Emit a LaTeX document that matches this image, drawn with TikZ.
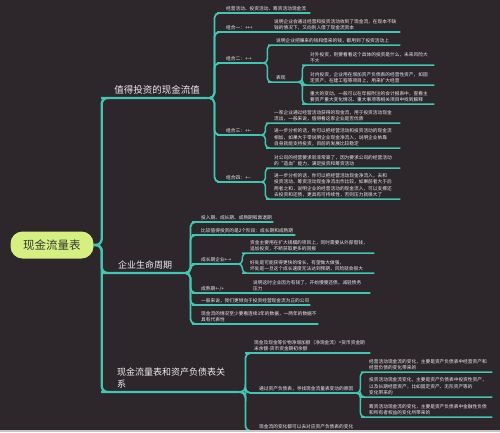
\documentclass[tikz,border=0pt]{standalone}
\usepackage{fontspec}
\newfontfamily\cjk{Noto Sans CJK SC}
\definecolor{bgdark}{RGB}{45,39,44}
\definecolor{linkc}{RGB}{64,198,178}
\definecolor{rootc}{RGB}{213,240,128}
\definecolor{roott}{RGB}{55,55,55}
\definecolor{txt}{RGB}{236,236,236}
\definecolor{stripc}{RGB}{196,196,196}

\begin{document}
\begin{tikzpicture}[x=1pt,y=-1pt,
    trunk/.style={draw=linkc,line width=2.3pt,rounded corners=6pt},
    link/.style={draw=linkc,line width=1.8pt,rounded corners=5pt},
    twig/.style={draw=linkc,line width=1.5pt,rounded corners=4pt},
    root/.style={fill=rootc,rounded corners=12pt,minimum width=83pt,minimum height=27pt,
        text=roott,font=\cjk\fontsize{11.5}{13}\selectfont},
    main/.style={anchor=south west,text=txt,inner xsep=0pt,inner ysep=3.5pt,
        font=\cjk\fontsize{9.5}{12.5}\selectfont},
    leaf/.style={anchor=south west,text=txt,text width=#1,align=left,inner xsep=4pt,
        inner ysep=1.9pt,font=\cjk\fontsize{4.7}{6.4}\selectfont},
]
\path[use as bounding box,fill=bgdark] (0,0) rectangle (500,432);

\node[root] (root) at (52,245) {现金流量表};
\node[main,minimum width=100pt,align=center] (inv) at (107,98) {值得投资的现金流值};
\node[main,minimum width=76pt,font=\cjk\fontsize{9}{12}\selectfont] (life) at (107,273) {企业生命周期};
\node[main,text width=112pt,align=left,inner xsep=10pt,font=\cjk\fontsize{9}{12.5}\selectfont] (rel) at (107,392) {现金流量表和资产负债表关\\系};

\node[leaf=80pt] (b1a) at (222,13) {经营活动、投资活动、筹资活动现金流};
\node[leaf=32pt] (c1) at (222,32) {组合一：+++};
\node[leaf=122pt] (c1a) at (270,32) {说明企业会通过经营和投资活动收到了现金流，在现本不缺\\钱的情况下，又向别人借了现金流资本};
\node[leaf=32pt] (c2) at (222,63) {组合二：+-+};
\node[leaf=120pt] (c2a) at (272,45) {说明企业把赚来的钱和借来的钱，都用到了投资活动上};
\node[leaf=18pt] (c2b) at (272,82) {表现};
\node[leaf=120pt] (c2b1) at (306,65) {对外投资，则要看看这个具体的投资是什么，未来风险大\\不大};
\node[leaf=120pt] (c2b2) at (306,85) {对内投资，企业用在增加资产负债表的经营性资产，如固\\定资产、在建工程等项目上，用来扩大经营};
\node[leaf=120pt] (c2b3) at (306,104) {重大的变动，一般可以在年报附注的会计报表中，查看主\\要资产重大变化情况、重大事项等相关项目中找到解释};
\node[leaf=30pt] (c3) at (222,135) {组合三：++-};
\node[leaf=122pt] (c3a) at (270,123) {一家企业通过经营活动获得的现金流，用于投资活动现金\\流出，一般来说，值得看这家企业是否优质};
\node[leaf=122pt] (c3b) at (270,148) {进一步分析的话，你可以把经营活动和投资活动的现金流\\相加，如果大于零说明企业现金净流入，说明企业依靠\\自身就能支持投资，目前的发展比较稳定};
\node[leaf=30pt] (c4) at (222,182) {组合四：+--};
\node[leaf=122pt] (c4a) at (270,168) {对公司的经营要求就非常高了，因为要求公司的经营活动\\的“造血”能力，满足投资和筹资活动};
\node[leaf=122pt] (c4b) at (270,199) {进一步分析的话，你可以把经营活动现金净流入，去和\\投资活动、筹资活动现金净流出作比较，如果前者大于后\\两者之和，说明企业的经营活动的现金流入，可以支撑还\\去投资和还债，更具有可持续性，否则压力就很大了};

\node[leaf=68pt] (d1) at (197,222) {投入期、成长期、成熟期和衰退期};
\node[leaf=90pt] (d2) at (197,235) {比较值得投资的是2个阶段：成长期和成熟期};
\node[leaf=33pt] (d3) at (197,264) {成长期企业+-+};
\node[leaf=120pt] (d3a) at (246,253) {资金主要用在扩大规模的项目上，同时需要从外部借钱，\\追加投资，不断获取更多的回报};
\node[leaf=120pt] (d3b) at (246,273) {好处是可能获得更快的增长，有望做大做强，\\坏处是一旦这个成长速度无法达到预期，风险就会很大};
\node[leaf=36pt] (d4) at (197,293) {成熟期+-/+};
\node[leaf=113pt] (d4a) at (249,293) {说明这时企业因为有钱了，开始慢慢还债，减轻债务\\压力};
\node[leaf=105pt] (d5) at (197,305) {一般来说，我们更倾向于投资经营现金流为正的公司};
\node[leaf=113pt] (d6) at (197,324) {现金流的情况至少要看连续3年的数据，一两年的数据不\\具有代表性};

\node[leaf=112pt] (e1) at (250,353) {现金及现金等价物净增加额（净现金流）=货币资金期\\末余额-货币资金期初余额};
\node[leaf=92pt] (e2) at (255,393) {通过资产负债表，寻找现金流量表变动的原因};
\node[leaf=119pt] (e2a) at (365,372) {经营活动现金流的变化，主要是资产负债表中经营资产和\\经营负债的变化带来的};
\node[leaf=119pt] (e2b) at (365,397) {投资活动现金流变化，主要是资产负债表中投资性资产，\\以及长期经营资产，比如固定资产、无形资产等的\\变化带来的};
\node[leaf=119pt] (e2c) at (365,417) {筹资活动现金流的变化，主要是资产负债表中金融性负债\\和所有者权益的变化所带来的};
\node[leaf=92pt] (e3) at (255,431) {现金流的变化都可以去对应资产负债表的变化};

\draw[trunk] (root.east) -- ++(8,0) |- (inv.south west) -- (inv.south east);
\draw[trunk] (root.east) -- ++(8,0) |- (life.south west) -- (life.south east);
\draw[trunk] (root.east) -- ++(8,0) |- (rel.south west) -- (rel.south east);

\draw[link] (inv.south east) -- ++(7,0) |- (b1a.south west) -- (b1a.south east);
\draw[link] (inv.south east) -- ++(7,0) |- (c1.south west) -- (c1.south east) -- (c1a.south west) -- (c1a.south east);
\draw[link] (inv.south east) -- ++(7,0) |- (c2.south west) -- (c2.south east);
\draw[link] (inv.south east) -- ++(7,0) |- (c3.south west) -- (c3.south east);
\draw[link] (inv.south east) -- ++(7,0) |- (c4.south west) -- (c4.south east);
\draw[twig] (c2.south east) -- ++(5,0) |- (c2a.south west) -- (c2a.south east);
\draw[twig] (c2.south east) -- ++(5,0) |- (c2b.south west) -- (c2b.south east);
\draw[twig] (c2b.south east) -- ++(4,0) |- (c2b1.south west) -- (c2b1.south east);
\draw[twig] (c2b.south east) -- ++(4,0) |- (c2b2.south west) -- (c2b2.south east);
\draw[twig] (c2b.south east) -- ++(4,0) |- (c2b3.south west) -- (c2b3.south east);
\draw[twig] (c3.south east) -- ++(5,0) |- (c3a.south west) -- (c3a.south east);
\draw[twig] (c3.south east) -- ++(5,0) |- (c3b.south west) -- (c3b.south east);
\draw[twig] (c4.south east) -- ++(5,0) |- (c4a.south west) -- (c4a.south east);
\draw[twig] (c4.south east) -- ++(5,0) |- (c4b.south west) -- (c4b.south east);

\draw[link] (life.south east) -- ++(7,0) |- (d1.south west) -- (d1.south east);
\draw[link] (life.south east) -- ++(7,0) |- (d2.south west) -- (d2.south east);
\draw[link] (life.south east) -- ++(7,0) |- (d3.south west) -- (d3.south east);
\draw[link] (life.south east) -- ++(7,0) |- (d4.south west) -- (d4.south east) -- (d4a.south west) -- (d4a.south east);
\draw[link] (life.south east) -- ++(7,0) |- (d5.south west) -- (d5.south east);
\draw[link] (life.south east) -- ++(7,0) |- (d6.south west) -- (d6.south east);
\draw[twig] (d3.south east) -- ++(4,0) |- (d3a.south west) -- (d3a.south east);
\draw[twig] (d3.south east) -- ++(4,0) |- (d3b.south west) -- (d3b.south east);

\draw[link] (rel.south east) -- ++(6,0) |- (e1.south west) -- (e1.south east);
\draw[link] (rel.south east) -- ++(6,0) |- (e2.south west) -- (e2.south east);
\draw[link] (rel.south east) -- ++(6,0) |- (e3.south west) -- (e3.south east);
\draw[twig] (e2.south east) -- ++(5,0) |- (e2a.south west) -- (e2a.south east);
\draw[twig] (e2.south east) -- ++(5,0) |- (e2b.south west) -- (e2b.south east);
\draw[twig] (e2.south east) -- ++(5,0) |- (e2c.south west) -- (e2c.south east);

\fill[stripc] (0,429.5) rectangle (500,432);
\end{tikzpicture}
\end{document}
